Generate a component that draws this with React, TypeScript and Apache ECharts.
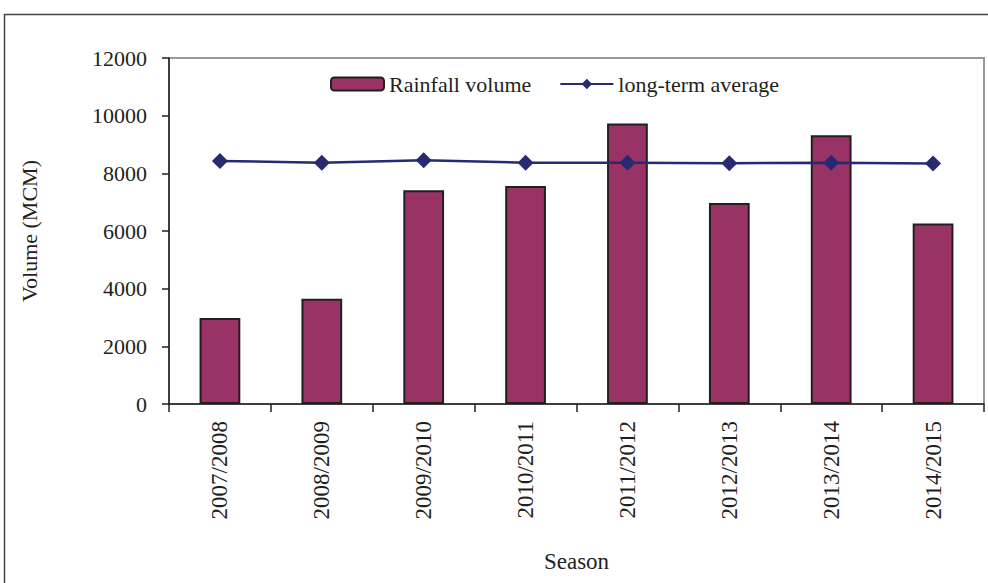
import React, { useEffect, useRef } from "react";
import * as echarts from "echarts";

const seasons = ["2007/2008", "2008/2009", "2009/2010", "2010/2011", "2011/2012", "2012/2013", "2013/2014", "2014/2015"];
const rainfallVolume = [2980, 3650, 7410, 7560, 9730, 6970, 9320, 6260];
const longTermAverage = [8430, 8370, 8450, 8370, 8370, 8350, 8370, 8340];
const yMin = 0;
const yMax = 12000;
const yInterval = 2000;

const FONT = "'Liberation Serif', 'Times New Roman', serif";

export default function App() {
  const ref = useRef<HTMLDivElement>(null);
  useEffect(() => {
    if (!ref.current) return;
    const chart = echarts.init(ref.current, null, { renderer: "svg" });
    chart.setOption({
      animation: false,
      backgroundColor: "#ffffff",
      textStyle: { fontFamily: FONT, color: "#231f20" },
      graphic: [
        {
          type: "rect",
          shape: { x: 4.5, y: 14.5, width: 1000, height: 600 },
          style: { fill: "none", stroke: "#444", lineWidth: 1.5 },
          silent: true,
          z: -10,
        },
      ],
      legend: {
        left: 325,
        top: 68,
        itemWidth: 53,
        itemHeight: 13,
        itemGap: 28,
        textStyle: { fontFamily: FONT, fontSize: 22, color: "#231f20" },
        data: ["Rainfall volume", "long-term average"],
      },
      grid: {
        left: 169,
        right: 4,
        top: 58,
        bottom: 179,
        outerBoundsMode: "none",
        containLabel: false,
        show: true,
        borderColor: "#999999",
        borderWidth: 2,
      },
      xAxis: {
        type: "category",
        data: seasons,
        name: "Season",
        nameLocation: "middle",
        nameGap: 146,
        nameTextStyle: { fontFamily: FONT, fontSize: 23, color: "#231f20" },
        axisLine: { show: true, lineStyle: { color: "#231f20", width: 1.5 } },
        axisTick: { show: true, length: 8, lineStyle: { color: "#231f20", width: 1.5 } },
        axisLabel: {
          rotate: 90,
          margin: 17,
          fontFamily: FONT,
          fontSize: 23,
          color: "#231f20",
        },
      },
      yAxis: {
        type: "value",
        min: yMin,
        max: yMax,
        interval: yInterval,
        name: "Volume (MCM)",
        nameLocation: "middle",
        nameGap: 129,
        nameTextStyle: { fontFamily: FONT, fontSize: 22, color: "#231f20" },
        axisLine: { show: true, lineStyle: { color: "#231f20", width: 1.5 } },
        axisTick: { show: true, length: 7, lineStyle: { color: "#231f20", width: 1.5 } },
        splitLine: { show: false },
        axisLabel: {
          margin: 22,
          fontFamily: FONT,
          fontSize: 22,
          color: "#231f20",
          formatter: (v: number) => String(v),
        },
      },
      series: [
        {
          name: "Rainfall volume",
          type: "bar",
          data: rainfallVolume,
          barWidth: "40%",
          itemStyle: { color: "#993366", borderColor: "#231f20", borderWidth: 2 },
          z: 2,
        },
        {
          name: "long-term average",
          type: "line",
          data: longTermAverage,
          symbol: "diamond",
          symbolSize: 16,
          lineStyle: { color: "#262a72", width: 2.5 },
          itemStyle: { color: "#262a72" },
          z: 3,
        },
      ],
    });
    return () => chart.dispose();
  }, []);
  return (
    <div
      ref={ref}
      style={{ position: "fixed", left: 0, top: 0, width: 988, height: 583 }}
    />
  );
}
